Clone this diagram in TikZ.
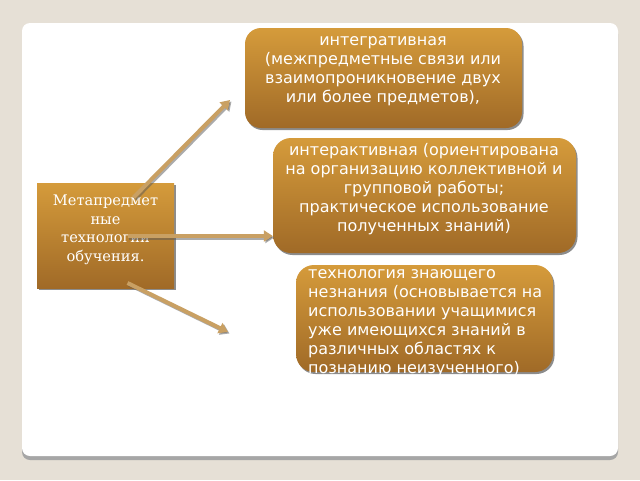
\documentclass[tikz,border=0pt]{standalone}
\usepackage{fontspec}
\setmainfont{DejaVu Serif}
\setsansfont{DejaVu Sans}
\usetikzlibrary{arrows.meta,shadows}

\definecolor{slidebg}{HTML}{E6E0D6}
\definecolor{goldtop}{HTML}{D59B3B}
\definecolor{goldbot}{HTML}{A06A27}
\definecolor{arrowtan}{HTML}{C9A063}

\tikzset{
  goldbox/.style={top color=goldtop, bottom color=goldbot, draw=none, rounded corners=16pt, inner sep=0pt,
    drop shadow={shadow xshift=1.5pt, shadow yshift=-2pt, opacity=.45, fill=black}},
  boxtext/.style={text=white, font=\sffamily\fontsize{16}{19}\selectfont, align=center, inner sep=0pt},
  tanarrow/.style={draw=arrowtan, line width=4pt, -{Triangle[length=9pt,width=11pt]}},
  arrowshade/.style={draw=black!65, opacity=.5, line width=4pt, -{Triangle[length=9pt,width=11pt]}}
}

\begin{document}
\begin{tikzpicture}[x=1pt,y=-1pt]
   \fill[slidebg] (0,0) rectangle (640,480);
   \useasboundingbox (0,0) rectangle (640,480);

   % slide
   \fill[black!35, rounded corners=8pt] (22,26) rectangle (618,460);
   \fill[white, rounded corners=8pt] (22,23) rectangle (618,456);

   \node[goldbox, minimum width=277pt, minimum height=100pt] (integ) at (383.5,78) {};
   \node[goldbox, rounded corners=18pt, minimum width=303pt, minimum height=115pt] (interact) at (424.5,195.5) {};
   \node[goldbox, rounded corners=18pt, minimum width=257pt, minimum height=107pt] (knowing) at (424.5,318.5) {};
   \node[goldbox, rounded corners=0pt, minimum width=137pt, minimum height=105pt] (meta) at (105.5,235.5) {};

   \node[boxtext] (integtxt) at (383,71.5) {интегративная\\(межпредметные связи или\\взаимопроникновение двух\\или более предметов),};
   \node[boxtext] (interacttxt) at (424,189.5) {интерактивная (ориентирована\\на организацию коллективной и\\групповой работы;\\практическое использование\\полученных знаний)};
   \node[boxtext, align=left, anchor=west] (knowingtxt) at (308,323) {технология знающего\\незнания (основывается на\\использовании учащимися\\уже имеющихся знаний в\\различных областях к\\познанию неизученного)};
   \node[boxtext, font=\rmfamily\fontsize{14.6}{18.5}\selectfont] (metatxt) at (105.5,230) {Метапредмет\\ные\\технологии\\обучения.};

   \coordinate (m1) at ([shift={(28,-38)}]meta.center);
   \coordinate (m2) at ([shift={(22,0.5)}]meta.center);
   \coordinate (m3) at ([shift={(22,47.5)}]meta.center);
   \coordinate (e1) at (230,100);
   \coordinate (e2) at (interact.west |- m2);
   \coordinate (e3) at (228,332);

   \foreach \s/\e in {m1/e1,m2/e2,m3/e3}{
      \draw[arrowshade] ([shift={(1.5,1.5)}]\s) -- ([shift={(1.5,1.5)}]\e);
      \draw[tanarrow] (\s) -- (\e);
   }
\end{tikzpicture}
\end{document}
